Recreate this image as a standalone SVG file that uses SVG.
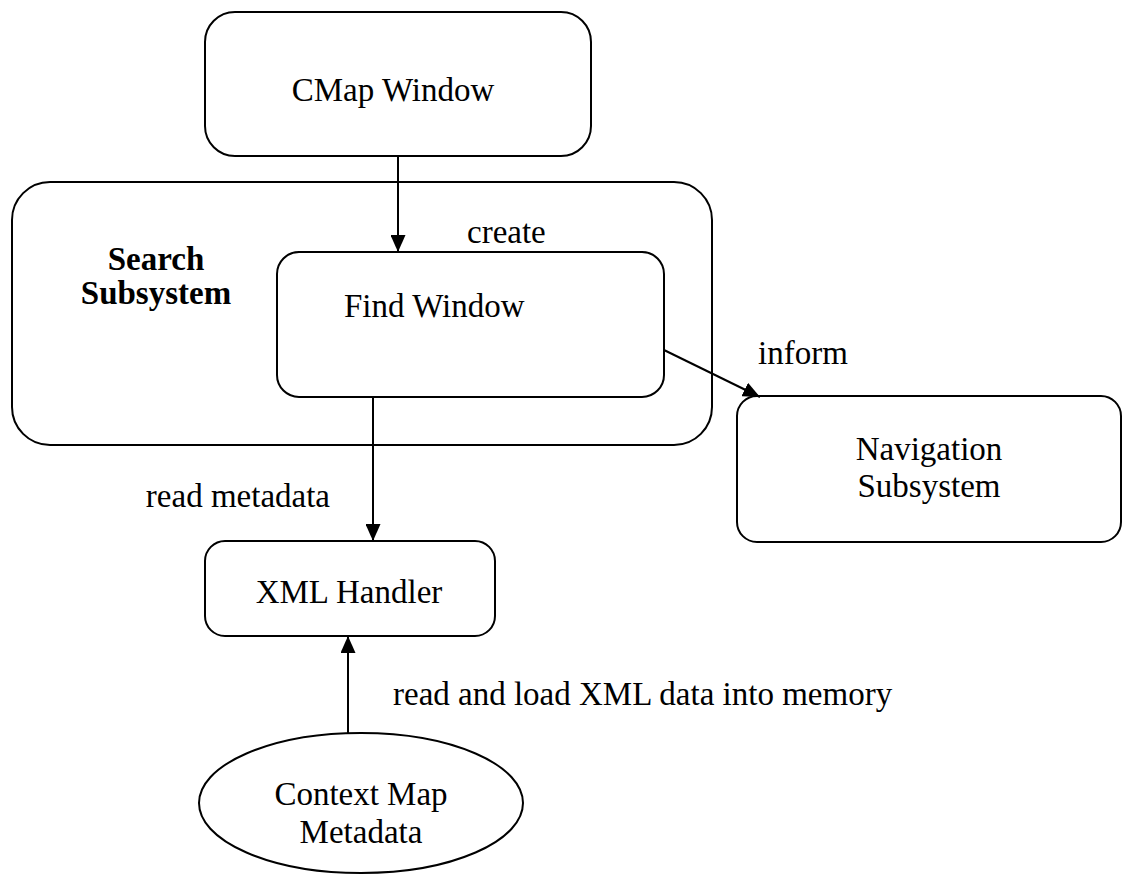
<svg xmlns="http://www.w3.org/2000/svg" width="1123" height="875" viewBox="0 0 1123 875">
<style>
.box{fill:#fff;stroke:#000;stroke-width:2}
.t{font-family:"Liberation Serif","Times New Roman",serif;font-size:33px;fill:#000}
.b{font-weight:bold}
.c{stroke:#000;stroke-width:2;fill:none}
</style>
<defs>
<marker id="ah" markerUnits="userSpaceOnUse" markerWidth="17" markerHeight="15" viewBox="0 0 17 15" refX="17" refY="7.5" orient="auto">
<path d="M0,0 L17,7.5 L0,15 Z" fill="#000"/>
</marker>
</defs>
<rect width="1123" height="875" fill="#fff"/>
<g id="search-subsystem">
<rect class="box" x="12" y="182" width="700" height="263" rx="38" ry="38"/>
<text class="t b" x="156" y="270" text-anchor="middle">Search</text>
<text class="t b" x="156" y="304" text-anchor="middle">Subsystem</text>
</g>
<g id="cmap-window">
<rect class="box" x="205" y="12" width="386" height="144" rx="30" ry="30"/>
<text class="t" x="393" y="101" text-anchor="middle">CMap Window</text>
</g>
<g id="find-window">
<rect class="box" x="277" y="252" width="387" height="145" rx="22" ry="22"/>
<text class="t" x="344" y="317">Find Window</text>
</g>
<g id="navigation-subsystem">
<rect class="box" x="737" y="396" width="384" height="146" rx="20" ry="20"/>
<text class="t" x="929" y="460" text-anchor="middle">Navigation</text>
<text class="t" x="929" y="497" text-anchor="middle">Subsystem</text>
</g>
<g id="xml-handler">
<rect class="box" x="205" y="541" width="290" height="95" rx="20" ry="20"/>
<text class="t" x="349" y="603" text-anchor="middle">XML Handler</text>
</g>
<g id="context-map-metadata">
<ellipse class="box" cx="361" cy="803" rx="162" ry="70"/>
<text class="t" x="361" y="805" text-anchor="middle">Context Map</text>
<text class="t" x="361" y="843" text-anchor="middle">Metadata</text>
</g>
<g id="connectors">
<line class="c" x1="398" y1="156" x2="398" y2="252" marker-end="url(#ah)"/>
<line class="c" x1="664" y1="350" x2="760" y2="397" marker-end="url(#ah)"/>
<line class="c" x1="373" y1="397" x2="373" y2="541" marker-end="url(#ah)"/>
<line class="c" x1="348" y1="733" x2="348" y2="636" marker-end="url(#ah)"/>
<text class="t" x="467" y="243">create</text>
<text class="t" x="758" y="364">inform</text>
<text class="t" x="330" y="507" text-anchor="end">read metadata</text>
<text class="t" x="393" y="705">read and load XML data into memory</text>
</g>
</svg>
